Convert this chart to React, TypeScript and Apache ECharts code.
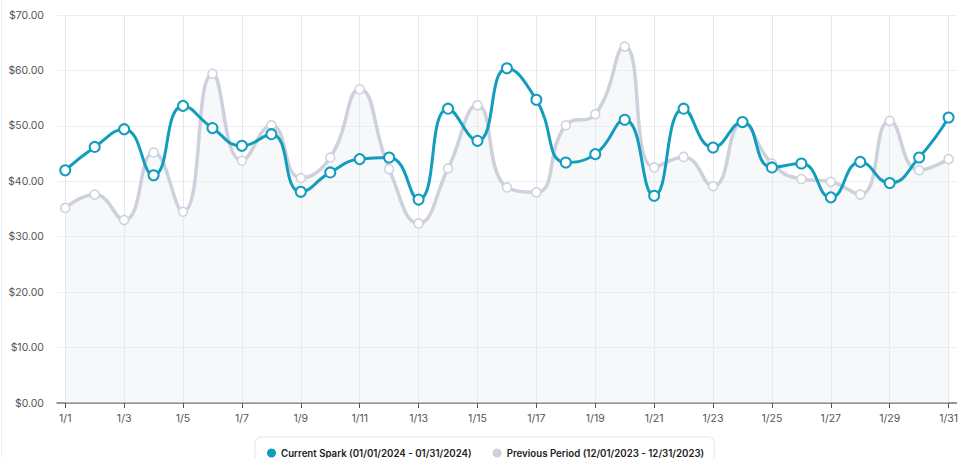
import React, { useEffect, useRef } from "react";
import * as echarts from "echarts";

const days: number[] = Array.from({ length: 31 }, (_, i) => i + 1);
const tickDays: number[] = [1, 3, 5, 7, 9, 11, 13, 15, 17, 19, 21, 23, 25, 27, 29, 31];

const currentName = "Current Spark (01/01/2024 - 01/31/2024)";
const previousName = "Previous Period (12/01/2023 - 12/31/2023)";

const currentValues: number[] = [
  42.0, 46.2, 49.4, 41.1, 53.6, 49.6, 46.4, 48.5, 38.1, 41.6,
  44.0, 44.3, 36.7, 53.1, 47.3, 60.4, 54.7, 43.4, 44.9, 51.1,
  37.4, 53.1, 46.1, 50.7, 42.5, 43.2, 37.1, 43.5, 39.7, 44.3, 51.5,
];
const previousValues: number[] = [
  35.2, 37.6, 33.0, 45.2, 34.5, 59.4, 43.7, 50.1, 40.6, 44.3,
  56.6, 42.2, 32.4, 42.3, 53.7, 38.9, 38.0, 50.1, 52.1, 64.3,
  42.5, 44.4, 39.1, 50.5, 43.2, 40.4, 39.9, 37.6, 50.9, 42.0, 44.0,
];

const TEAL = "#129dbd";
const GRAY = "#cdd1dc";

export default function App() {
  const ref = useRef<HTMLDivElement>(null);
  useEffect(() => {
    if (!ref.current) return;
    const chart = echarts.init(ref.current, undefined, { renderer: "svg" });
    chart.setOption({
      animation: false,
      textStyle: { fontFamily: "Inter" },
      grid: { left: 57, right: 0, top: 15, bottom: 55 },
      graphic: [
        {
          type: "line",
          shape: { x1: 1.5, y1: 0, x2: 1.5, y2: 458 },
          style: { stroke: "#eef0f3", lineWidth: 1 },
          silent: true,
        },
      ],
      legend: {
        top: 437,
        left: 255,
        icon: "circle",
        itemWidth: 9,
        itemHeight: 9,
        itemGap: 21,
        padding: [11, 10, 10, 12],
        borderColor: "#e3e5ea",
        borderWidth: 1,
        borderRadius: 6,
        backgroundColor: "#fff",
        textStyle: { fontFamily: "Inter", fontSize: 9.7, fontWeight: 600, color: "#222" },
        data: [
          { name: currentName, itemStyle: { color: TEAL, borderWidth: 0 } },
          { name: previousName, itemStyle: { color: GRAY, borderWidth: 0 } },
        ],
      },
      xAxis: {
        type: "value",
        min: 0.72,
        max: 31.27,
        axisLine: { show: true, lineStyle: { color: "#777", width: 1.5 } },
        axisTick: { show: true, length: 5, customValues: tickDays, lineStyle: { color: "#555" } },
        axisLabel: {
          customValues: tickDays,
          formatter: (v: number) => `1/${Math.round(v)}`,
          color: "#555",
          fontSize: 10.5,
          margin: 10,
        },
        splitLine: { show: true, lineStyle: { color: "#e6e7eb" } },
      },
      yAxis: {
        type: "value",
        min: 0,
        max: 70,
        interval: 10,
        axisLine: { show: false },
        axisTick: { show: false },
        axisLabel: {
          formatter: (v: number) => `$${v.toFixed(2)}`,
          color: "#555",
          fontSize: 10.5,
          margin: 13,
        },
        splitLine: { lineStyle: { color: "#eceef1" } },
      },
      series: [
        {
          name: previousName,
          type: "line",
          smooth: 0.5,
          data: days.map((d, i) => [d, previousValues[i]]),
          lineStyle: { color: GRAY, width: 3.5 },
          itemStyle: { color: "#fff", borderColor: GRAY, borderWidth: 1.5 },
          symbol: "circle",
          symbolSize: 9,
          areaStyle: { color: "rgba(233,236,241,0.55)" },
          z: 2,
        },
        {
          name: currentName,
          type: "line",
          smooth: 0.5,
          data: days.map((d, i) => [d, currentValues[i]]),
          lineStyle: { color: TEAL, width: 3 },
          itemStyle: { color: "#fff", borderColor: TEAL, borderWidth: 2 },
          symbol: "circle",
          symbolSize: 10,
          z: 3,
        },
      ],
    });
    return () => chart.dispose();
  }, []);
  return <div ref={ref} style={{ width: 961, height: 458, position: "absolute", left: 0, top: 0 }} />;
}
